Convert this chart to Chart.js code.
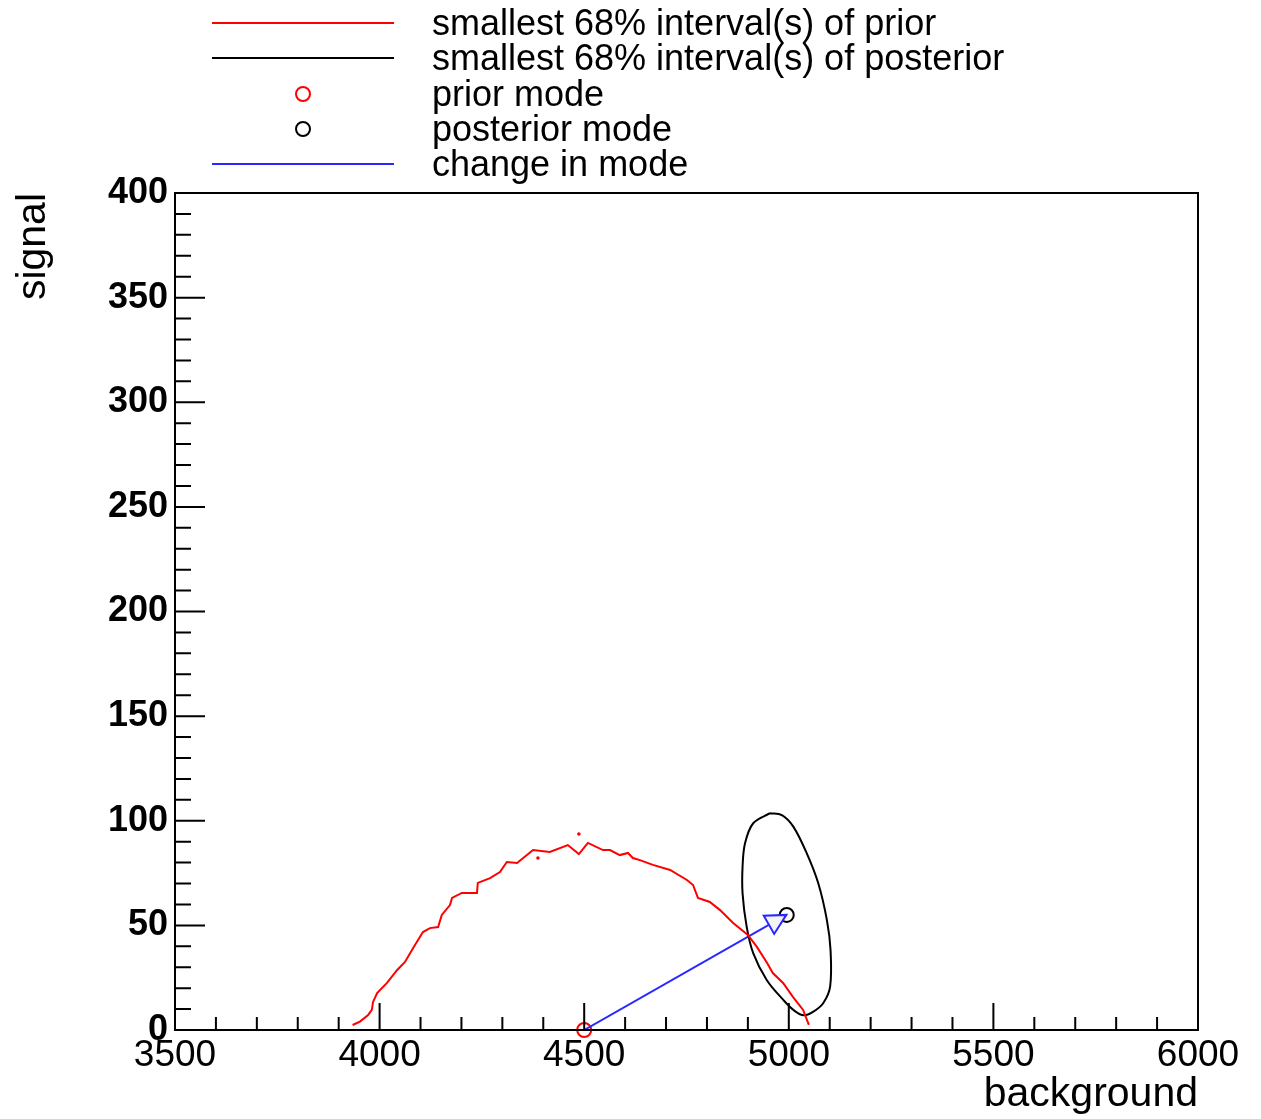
<!DOCTYPE html>
<html>
<head>
<meta charset="utf-8">
<title>prior / posterior intervals</title>
<script src="https://cdn.jsdelivr.net/npm/chart.js@4.4.0/dist/chart.umd.min.js"></script>
<style>
  body { margin: 0; background: #fff; }
  #wrap { position: relative; width: 1261px; height: 1119px; }
  #legend { position: absolute; left: 0; top: 0; width: 1261px; height: 190px;
    font-family: "Liberation Sans", Arial, sans-serif; font-size: 36px; color: #000; }
  #legend .row { position: absolute; left: 212px; height: 36px; display: flex; align-items: center; white-space: nowrap; }
  #legend .mark { width: 220px; height: 36px; position: relative; }
  #legend .line { position: absolute; left: 0; top: 17px; width: 182px; height: 2px; }
  #legend .dot { position: absolute; left: 83px; top: 10px; width: 12px; height: 12px; border-radius: 50%; border: 2px solid; }
</style>
</head>
<body>
<div id="wrap">
  <canvas id="plot" width="1261" height="1119"></canvas>
  <div id="legend"></div>
</div>
<script>
// prior 68% contour (background, signal)
var priorX = [3934, 3952, 3972, 3981, 3984, 3994, 4018, 4043, 4062, 4082, 4106, 4123, 4143, 4152, 4172, 4177,
  4201, 4238, 4240, 4270, 4294, 4311, 4336, 4375, 4416, 4460, 4487, 4509, 4546, 4563, 4587, 4607, 4619,
  4636, 4668, 4710, 4751, 4766, 4778, 4807, 4832, 4864, 4900, 4922, 4947, 4961, 4986, 5010, 5035, 5049];
var priorY = [2.4, 4.0, 7.2, 9.6, 13.4, 17.7, 22.5, 28.7, 32.5, 39.2, 46.8, 48.7, 49.2, 55.0, 59.7, 63.1,
  65.5, 65.5, 70.3, 72.6, 75.5, 80.3, 79.8, 86.0, 85.1, 88.4, 84.1, 89.4, 86.0, 86.0, 83.6, 84.6, 82.2,
  81.2, 78.9, 76.5, 71.7, 69.3, 63.1, 61.2, 57.3, 51.1, 45.4, 39.7, 32.0, 27.2, 22.5, 15.8, 9.6, 2.4];
// small islands of the prior contour
var priorDotX = [4387, 4487];
var priorDotY = [82.2, 93.7];

// posterior 68% contour
var postX = [4954, 4913, 4893, 4887, 4887, 4897, 4913, 4946, 4987, 5015, 5037, 5058, 5084, 5101, 5102,
  5093, 5072, 5044, 5011, 4983, 4954];
var postY = [103.6, 98.8, 89.2, 78.0, 65.3, 49.4, 36.7, 23.9, 14.3, 9.0, 7.0, 8.5, 12.8, 20.7, 38.2,
  52.6, 70.1, 84.4, 97.2, 102.7, 103.6];

// modes
var priorMode = [4500, 0];
var postMode = [4995, 55];
var arrowX = [4500, 4994];
var arrowY = [0, 55];

var legendLabels = ['smallest 68% interval(s) of prior', 'smallest 68% interval(s) of posterior',
  'prior mode', 'posterior mode', 'change in mode'];
var legendKinds = ['line', 'line', 'dot', 'dot', 'line'];
var legendColors = ['#ff0000', '#000000', '#ff0000', '#000000', '#2828ff'];

var xTicks = [3500, 4000, 4500, 5000, 5500, 6000];
var yTicks = [0, 50, 100, 150, 200, 250, 300, 350, 400];

function pts(xs, ys) {
  var out = [];
  for (var i = 0; i < xs.length; i++) out.push({x: xs[i], y: ys[i]});
  return out;
}

// ROOT style frame with ticks on the inside
var rootFrame = {
  id: 'rootFrame',
  afterDatasetsDraw: function(chart) {
    var ctx = chart.ctx, a = chart.chartArea;
    var xs = chart.scales.x, ys = chart.scales.y;
    ctx.save();
    ctx.strokeStyle = '#000';
    ctx.lineWidth = 2;
    ctx.strokeRect(a.left, a.top, a.right - a.left, a.bottom - a.top);
    ctx.beginPath();
    for (var v = xTicks[0]; v <= xTicks[xTicks.length - 1]; v += 100) {
      var px = xs.getPixelForValue(v);
      var len = xTicks.indexOf(v) >= 0 ? 27 : 13;
      ctx.moveTo(px, a.bottom);
      ctx.lineTo(px, a.bottom - len);
    }
    for (var w = yTicks[0]; w <= yTicks[yTicks.length - 1]; w += 10) {
      var py = ys.getPixelForValue(w);
      var l2 = yTicks.indexOf(w) >= 0 ? 30 : 16;
      ctx.moveTo(a.left, py);
      ctx.lineTo(a.left + l2, py);
    }
    ctx.stroke();
    ctx.restore();
  }
};

// open triangle head at the end of the arrow dataset
var arrowHead = {
  id: 'arrowHead',
  afterDatasetsDraw: function(chart) {
    var meta = chart.getDatasetMeta(3);
    var p0 = meta.data[0], p1 = meta.data[meta.data.length - 1];
    var ang = Math.atan2(p1.y - p0.y, p1.x - p0.x);
    var bx = p1.x - 20 * Math.cos(ang), by = p1.y - 20 * Math.sin(ang);
    var ctx = chart.ctx;
    ctx.save();
    ctx.beginPath();
    ctx.moveTo(p1.x, p1.y);
    ctx.lineTo(bx - 10.5 * Math.sin(ang), by + 10.5 * Math.cos(ang));
    ctx.lineTo(bx + 10.5 * Math.sin(ang), by - 10.5 * Math.cos(ang));
    ctx.closePath();
    ctx.fillStyle = '#f4f4f4';
    ctx.fill();
    ctx.strokeStyle = legendColors[4];
    ctx.lineWidth = 2;
    ctx.stroke();
    ctx.restore();
  }
};

var plain = function(v) { return String(v); };

var chart = new Chart(document.getElementById('plot'), {
  type: 'scatter',
  data: {
    datasets: [
      { label: legendLabels[0], data: pts(priorX, priorY), showLine: true, borderColor: legendColors[0],
        borderWidth: 2, pointRadius: 0, tension: 0 },
      { label: legendLabels[0] + ' (islands)', data: pts(priorDotX, priorDotY), pointRadius: 1.8,
        backgroundColor: legendColors[0], borderWidth: 0 },
      { label: legendLabels[1], data: pts(postX, postY), showLine: true, borderColor: legendColors[1],
        borderWidth: 2, pointRadius: 0, tension: 0.35 },
      { label: legendLabels[4], data: pts(arrowX, arrowY), showLine: true, borderColor: legendColors[4],
        borderWidth: 2, pointRadius: 0 },
      { label: legendLabels[2], data: [{x: priorMode[0], y: priorMode[1]}], pointRadius: 7,
        borderColor: legendColors[2], backgroundColor: 'rgba(0,0,0,0)', borderWidth: 2, clip: false },
      { label: legendLabels[3], data: [{x: postMode[0], y: postMode[1]}], pointRadius: 7,
        borderColor: legendColors[3], backgroundColor: 'rgba(0,0,0,0)', borderWidth: 2 }
    ]
  },
  options: {
    responsive: false,
    animation: false,
    layout: { padding: { top: 193, right: 63, left: 0, bottom: 0 } },
    plugins: { legend: { display: false }, tooltip: { enabled: false } },
    scales: {
      x: {
        type: 'linear', min: 3500, max: 6000,
        grid: { display: false, drawTicks: false },
        border: { display: false },
        ticks: { stepSize: 500, color: '#000', padding: 4, maxRotation: 0, autoSkip: false, callback: plain,
          font: { family: 'Liberation Sans', size: 37 } },
        title: { display: true, text: 'background', align: 'end', color: '#000', padding: 0,
          font: { family: 'Liberation Sans', size: 41 } },
        afterFit: function(s) { s.height = 89; }
      },
      y: {
        type: 'linear', min: 0, max: 400,
        grid: { display: false, drawTicks: false },
        border: { display: false },
        ticks: { stepSize: 50, color: '#000', padding: 7, callback: plain,
          font: { family: 'Liberation Sans', size: 36, weight: 'bold' } },
        title: { display: true, text: 'signal', align: 'end', color: '#000', padding: { top: 9, bottom: 0 },
          font: { family: 'Liberation Sans', size: 41 } },
        afterFit: function(s) { s.width = 175; }
      }
    }
  },
  plugins: [rootFrame, arrowHead]
});

// legend drawn as html rows
var rowCenters = [23, 58, 94, 129, 164];
var box = document.getElementById('legend');
for (var i = 0; i < legendLabels.length; i++) {
  var row = document.createElement('div');
  row.className = 'row';
  row.style.top = (rowCenters[i] - 18) + 'px';
  var mark = document.createElement('span');
  mark.className = 'mark';
  var m = document.createElement('span');
  if (legendKinds[i] === 'line') {
    m.className = 'line';
    m.style.background = legendColors[i];
  } else {
    m.className = 'dot';
    m.style.borderColor = legendColors[i];
  }
  mark.appendChild(m);
  var txt = document.createElement('span');
  txt.textContent = legendLabels[i];
  row.appendChild(mark);
  row.appendChild(txt);
  box.appendChild(row);
}
</script>
</body>
</html>
